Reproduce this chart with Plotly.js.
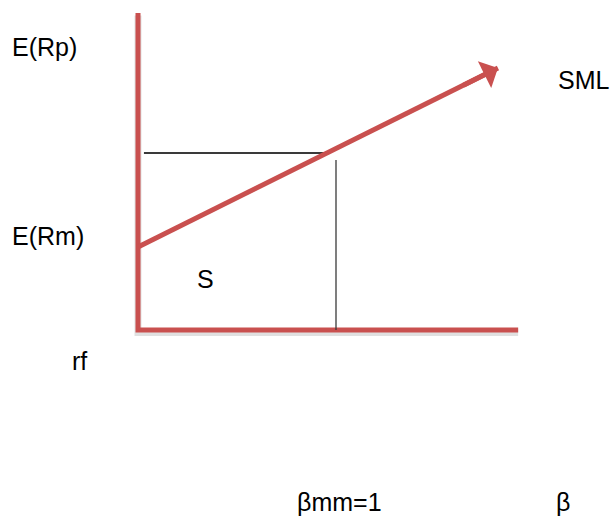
<!DOCTYPE html>
<html>
<head>
<meta charset="utf-8">
<script src="https://cdn.plot.ly/plotly-3.0.1.min.js"></script>
<style>html,body{margin:0;padding:0;background:#fff;}#chart{width:612px;height:520px;}</style>
</head>
<body>
<div id="chart"></div>
<script>
// Security Market Line diagram (x = beta, y = expected return)
var axisX = [0, 0, 1.92];          // vertical axis top -> origin -> horizontal axis end
var axisY = [15.85, 0, 0];
var smlBeta = [0, 1.818];           // SML from intercept to arrow tip
var smlReturn = [4.15, 13.1];
var hLineBeta = [0.03, 0.96];       // horizontal guide to the SML
var hLineReturn = [8.85, 8.85];
var vLineBeta = [1.0, 1.0];         // vertical guide at beta = 1
var vLineReturn = [8.5, 0];
var labels = ["E(Rp)", "SML", "E(Rm)", "S", "rf", "βmm=1", "β"];

var red = "#c9504f";
var traces = [
  {x: axisX, y: axisY.map(function(v){return v - 0.12;}), mode: "lines", line: {color: "rgba(0,0,0,0.12)", width: 7}, hoverinfo: "skip"},
  {x: axisX, y: axisY, mode: "lines", line: {color: red, width: 5}, hoverinfo: "skip"},
  {x: hLineBeta, y: hLineReturn, mode: "lines", line: {color: "#3a3a3a", width: 2}, hoverinfo: "skip"},
  {x: vLineBeta, y: vLineReturn, mode: "lines", line: {color: "#3a3a3a", width: 1.3}, hoverinfo: "skip"},
  {x: smlBeta, y: smlReturn, mode: "lines", line: {color: red, width: 5}, hoverinfo: "skip"}
];

var font = {family: "Liberation Sans, Arial, sans-serif", size: 25, color: "#000"};
function ann(i, px, py, anchor) {
  return {text: labels[i], xref: "paper", yref: "paper", x: px / 612, y: 1 - py / 520,
          xanchor: anchor, yanchor: "middle", showarrow: false, font: font, borderpad: 0};
}
// arrowhead at the end of the SML, drawn along its last stretch
var t = 0.9;
var arrowHead = {
  text: "", showarrow: true, xref: "x", yref: "y", axref: "x", ayref: "y",
  x: smlBeta[1], y: smlReturn[1],
  ax: smlBeta[0] + t * (smlBeta[1] - smlBeta[0]), ay: smlReturn[0] + t * (smlReturn[1] - smlReturn[0]),
  arrowhead: 1, arrowsize: 1.0, arrowwidth: 5, arrowcolor: red, standoff: 0
};
var layout = {
  width: 612, height: 520, margin: {l: 0, r: 0, t: 0, b: 0},
  paper_bgcolor: "#fff", plot_bgcolor: "#fff", showlegend: false,
  xaxis: {range: [-138 / 198, 474 / 198], visible: false, fixedrange: true},
  yaxis: {range: [-9.5, 16.5], visible: false, fixedrange: true},
  annotations: [
    ann(0, 11, 47, "left"),
    ann(1, 557, 80, "left"),
    ann(2, 11, 236, "left"),
    ann(3, 196, 279, "left"),
    ann(4, 71, 361, "left"),
    ann(5, 296, 502, "left"),
    ann(6, 555, 502, "left"),
    arrowHead
  ]
};
Plotly.newPlot("chart", traces, layout, {staticPlot: true});
</script>
</body>
</html>
